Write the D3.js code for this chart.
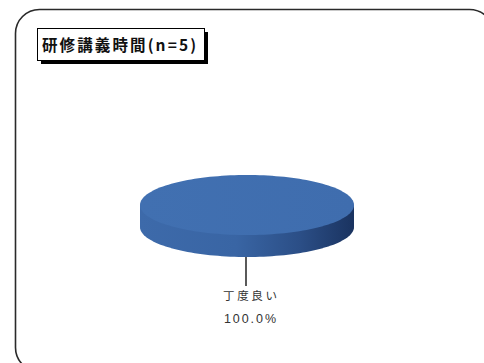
<!DOCTYPE html>
<html>
<head>
<meta charset="utf-8">
<script src="https://cdn.jsdelivr.net/npm/d3@7"></script>
<style>
  html, body { margin: 0; padding: 0; background: #fff; }
  svg { display: block; }
</style>
</head>
<body>
<div id="chart"></div>
<script>
// Survey answers: lecture time
const categories = ["丁度良い"];
const values = [5];
const titleText = "研修講義時間";

const W = 484, H = 363;
const svg = d3.select("#chart").append("svg")
  .attr("width", W).attr("height", H);

const defs = svg.append("defs");
const sideGrad = defs.append("linearGradient")
  .attr("id", "sideGrad").attr("x1", "0%").attr("x2", "100%").attr("y1", "0%").attr("y2", "0%");
sideGrad.append("stop").attr("offset", "0%").attr("stop-color", "#3d6aaa");
sideGrad.append("stop").attr("offset", "45%").attr("stop-color", "#3965a4");
sideGrad.append("stop").attr("offset", "75%").attr("stop-color", "#2b4e86");
sideGrad.append("stop").attr("offset", "100%").attr("stop-color", "#1a3360");

const topGrad = defs.append("linearGradient")
  .attr("id", "topGrad").attr("x1", "0%").attr("x2", "100%").attr("y1", "0%").attr("y2", "0%");
topGrad.append("stop").attr("offset", "0%").attr("stop-color", "#4170b1");
topGrad.append("stop").attr("offset", "100%").attr("stop-color", "#3f6dae");

// Outer frame
svg.append("rect")
  .attr("x", 15.5).attr("y", 9.5)
  .attr("width", 478).attr("height", 362)
  .attr("rx", 24).attr("ry", 24)
  .attr("fill", "#fff").attr("stroke", "#2a2a2a").attr("stroke-width", 1.6);

// Title box with drop shadow
const total = d3.sum(values);
const tg = svg.append("g");
tg.append("rect").attr("x", 41).attr("y", 32).attr("width", 167).attr("height", 32).attr("fill", "#000");
tg.append("rect").attr("x", 37.5).attr("y", 28.5).attr("width", 167).attr("height", 32)
  .attr("fill", "#fff").attr("stroke", "#000").attr("stroke-width", 1);
tg.append("text")
  .attr("x", 42).attr("y", 51)
  .attr("font-family", "'Noto Sans CJK JP', sans-serif")
  .attr("font-weight", "bold").attr("font-size", 15.5)
  .attr("fill", "#111")
  .attr("textLength", 154).attr("lengthAdjust", "spacing")
  .text(`${titleText}(n=${total})`);

// 3D pie geometry
const cx = 247, cy = 205, rx = 107, ry = 30, depth = 22;
const pie = d3.pie().sort(null).value(d => d);
const slices = pie(values);

// project an angle (d3 convention: 0 at top, clockwise) onto the ellipse
const px = a => cx + rx * Math.sin(a);
const py = a => cy - ry * Math.cos(a);

function sampleArc(a0, a1, n) {
  const pts = [];
  for (let i = 0; i <= n; i++) {
    const a = a0 + (a1 - a0) * i / n;
    pts.push([px(a), py(a)]);
  }
  return pts;
}

const line = d3.line();
const pieG = svg.append("g");

// side walls: the visible front half (angles between π/2 and 3π/2),
// extended up to the ellipse's middle so the top face fully covers the seam
slices.forEach(s => {
  const a0 = Math.max(s.startAngle, Math.PI / 2);
  const a1 = Math.min(s.endAngle, 3 * Math.PI / 2);
  if (a1 <= a0) return;
  const bottomEdge = sampleArc(a0, a1, 80).map(([x, y]) => [x, y + depth]);
  const topEdge = [[px(a1), cy], [px(a0), cy]];
  pieG.append("path")
    .attr("d", line(bottomEdge.concat(topEdge)) + "Z")
    .attr("fill", "url(#sideGrad)");
});

// top faces
slices.forEach(s => {
  const full = s.endAngle - s.startAngle >= 2 * Math.PI - 1e-6;
  const pts = sampleArc(s.startAngle, s.endAngle, 160);
  const d = full ? line(pts) + "Z" : line([[cx, cy]].concat(pts)) + "Z";
  pieG.append("path").attr("d", d).attr("fill", "url(#topGrad)");
});

// leader lines and labels
const fmt = d3.format(".1%");
slices.forEach((s, i) => {
  const mid = (s.startAngle + s.endAngle) / 2;
  const x0 = px(mid);
  const y0 = py(mid) + depth;
  svg.append("line")
    .attr("x1", x0 - 1).attr("y1", y0).attr("x2", x0 - 1).attr("y2", y0 + 29)
    .attr("stroke", "#000").attr("stroke-width", 1.3);
  svg.append("text")
    .attr("x", x0 + 3).attr("y", y0 + 43)
    .attr("text-anchor", "middle")
    .attr("font-family", "'Noto Sans CJK JP', sans-serif")
    .attr("font-size", 11.5).attr("fill", "#333")
    .attr("textLength", 54).attr("lengthAdjust", "spacing")
    .text(categories[i]);
  svg.append("text")
    .attr("x", x0 + 3).attr("y", y0 + 66)
    .attr("text-anchor", "middle")
    .attr("font-family", "'Liberation Sans', sans-serif")
    .attr("font-size", 12.5).attr("fill", "#333")
    .attr("textLength", 52).attr("lengthAdjust", "spacing")
    .text(fmt(s.data / total));
});
</script>
</body>
</html>
